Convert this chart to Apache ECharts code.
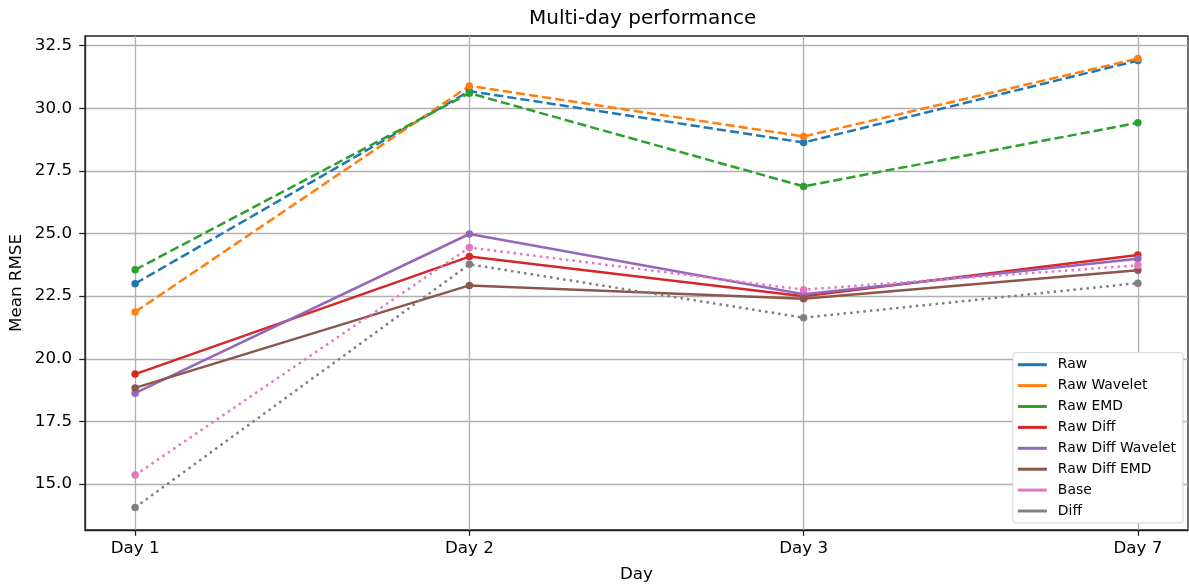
<!DOCTYPE html>
<html>
<head>
<meta charset="utf-8">
<script src="https://cdn.jsdelivr.net/npm/echarts@6/dist/echarts.min.js"></script>
<style>
html,body{margin:0;padding:0;background:#fff;}
#chart{width:1189px;height:588px;}
</style>
</head>
<body>
<div id="chart"></div>
<script>
var categories = ['Day 1', 'Day 2', 'Day 3', 'Day 7'];
var yTicks = [15.0, 17.5, 20.0, 22.5, 25.0, 27.5, 30.0, 32.5];

var raw             = [23.00, 30.68, 28.63, 31.90];
var rawWavelet      = [21.87, 30.89, 28.87, 31.98];
var rawEMD          = [23.55, 30.60, 26.88, 29.42];
var rawDiff         = [19.39, 24.08, 22.50, 24.14];
var rawDiffWavelet  = [18.63, 24.98, 22.58, 23.99];
var rawDiffEMD      = [18.84, 22.93, 22.40, 23.53];
var base            = [15.36, 24.44, 22.76, 23.73];
var diff            = [14.07, 23.77, 21.64, 23.02];

var seriesNames = ['Raw', 'Raw Wavelet', 'Raw EMD', 'Raw Diff', 'Raw Diff Wavelet', 'Raw Diff EMD', 'Base', 'Diff'];
var seriesValues = [raw, rawWavelet, rawEMD, rawDiff, rawDiffWavelet, rawDiffEMD, base, diff];
var colors = ['#1f77b4', '#ff7f0e', '#2ca02c', '#d62728', '#9467bd', '#8c564b', '#e377c2', '#7f7f7f'];
var dashes = [[9.25, 4], [9.25, 4], [9.25, 4], 'solid', 'solid', 'solid', [2.5, 4.1], [2.5, 4.1]];

var font = 'DejaVu Sans';
var chart = echarts.init(document.getElementById('chart'), null, {renderer: 'canvas'});

var series = seriesNames.map(function (name, i) {
  return {
    name: name,
    type: 'line',
    data: seriesValues[i].map(function (v, j) { return [j, v]; }),
    symbol: 'circle',
    symbolSize: 7.5,
    color: colors[i],
    itemStyle: {color: colors[i], borderWidth: 0},
    lineStyle: {color: colors[i], width: 2.5, type: dashes[i], cap: 'butt'},
    emphasis: {disabled: true},
    animation: false
  };
});

chart.setOption({
  animation: false,
  color: colors,
  title: {
    text: 'Multi-day performance',
    left: 524,
    top: 4,
    textStyle: {fontFamily: font, fontSize: 20, fontWeight: 'normal', color: '#000'}
  },
  grid: {
    left: 85, right: 1, top: 36, bottom: 58,
    containLabel: false,
    outerBoundsMode: 'none',
    show: true, borderColor: '#222', borderWidth: 1.3, backgroundColor: 'transparent'
  },
  legend: {
    orient: 'vertical',
    right: 6,
    bottom: 65,
    icon: 'rect',
    itemWidth: 29,
    itemHeight: 3,
    itemGap: 6.9,
    padding: [5, 7, 5, 5],
    backgroundColor: '#fff',
    borderColor: '#d4d4d4',
    borderWidth: 1,
    borderRadius: 3,
    z: 10,
    data: seriesNames,
    textStyle: {fontFamily: font, fontSize: 13.9, color: '#000', lineHeight: 14, padding: [0, 0, 0, 6]}
  },
  xAxis: {
    type: 'value',
    min: -0.15,
    max: 3.15,
    name: 'Day',
    nameLocation: 'middle',
    nameGap: 36,
    nameTextStyle: {fontFamily: font, fontSize: 16.7, color: '#000'},
    axisLine: {show: true, onZero: false, lineStyle: {color: '#222', width: 1.3}},
    axisTick: {show: true, length: 5.8, inside: false, customValues: [0, 1, 2, 3], lineStyle: {color: '#222', width: 1.3}},
    axisLabel: {
      customValues: [0, 1, 2, 3],
      margin: 10,
      fontFamily: font, fontSize: 16.7, color: '#000',
      formatter: function (v) { return categories[Math.round(v)]; }
    },
    splitLine: {show: true, lineStyle: {color: '#b0b0b0', width: 1.3}}
  },
  yAxis: {
    type: 'value',
    min: 13.17,
    max: 32.88,
    name: 'Mean RMSE',
    nameLocation: 'middle',
    nameGap: 60,
    nameMoveOverlap: false,
    nameTextStyle: {fontFamily: font, fontSize: 16.7, color: '#000'},
    axisLine: {show: true, onZero: false, lineStyle: {color: '#222', width: 1.3}},
    axisTick: {show: true, length: 5.8, inside: false, customValues: yTicks, lineStyle: {color: '#222', width: 1.3}},
    axisLabel: {
      customValues: yTicks,
      margin: 13,
      fontFamily: font, fontSize: 16.7, color: '#000',
      formatter: function (v) { return v.toFixed(1); }
    },
    splitLine: {show: true, lineStyle: {color: '#b0b0b0', width: 1.3}}
  },
  series: series
});
</script>
</body>
</html>
